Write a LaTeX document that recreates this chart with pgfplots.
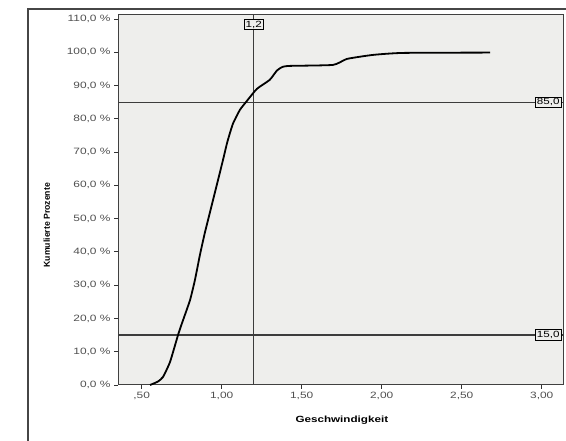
\documentclass[border=0pt]{standalone}
\usepackage{fontspec}
\setmainfont{Liberation Sans}
\newfontfamily\wsans[FakeStretch=1.3]{Liberation Sans}
\newfontfamily\lsans{Liberation Sans}
\usepackage{pgfplots}
\pgfplotsset{compat=1.18}
\definecolor{bgc}{RGB}{238,238,236}
\definecolor{framec}{RGB}{70,70,70}
\definecolor{refc}{RGB}{60,60,60}
\definecolor{tickc}{RGB}{80,80,80}
\pgfplotstableread{
x y
0.552 0.0
0.600 1.0
0.633 2.4
0.677 6.9
0.727 15.0
0.752 18.6
0.802 25.5
0.833 31.6
0.864 39.1
0.896 46.0
0.946 55.6
1.008 67.6
1.035 73.0
1.070 78.5
1.114 82.7
1.158 85.4
1.220 89.0
1.300 91.7
1.345 94.5
1.380 95.6
1.427 95.9
1.696 96.2
1.783 98.0
1.945 99.2
2.133 99.8
2.677 99.9
}\cumdata
\begin{document}
\begin{tikzpicture}[x=1bp,y=1bp]
\useasboundingbox (0,0) rectangle (566,441);
\fill[white] (0,0) rectangle (566,441);
\draw[framec, line width=1.5bp] (28,-10) -- (28,432) -- (580,432);
\begin{axis}[
  scale only axis,
  width=445bp, height=370bp,
  at={(118bp,56bp)}, anchor=south west,
  xmin=0.352, xmax=3.133, ymin=0, ymax=111.2,
  axis background/.style={fill=bgc},
  axis line style={black!75, line width=1bp},
  xtick={0.5,1,1.5,2,2.5,3},
  xticklabels={{,50},{1,00},{1,50},{2,00},{2,50},{3,00}},
  ytick={0,10,20,30,40,50,60,70,80,90,100,110},
  yticklabels={{0,0 \%},{10,0 \%},{20,0 \%},{30,0 \%},{40,0 \%},{50,0 \%},{60,0 \%},{70,0 \%},{80,0 \%},{90,0 \%},{100,0 \%},{110,0 \%}},
  xtick pos=bottom, ytick pos=left,
  tick align=outside,
  major tick length=4bp,
  tick style={black!80, line width=0.9bp},
  ticklabel style={font=\wsans\fontsize{9.2}{11}\selectfont, text=tickc},
  xlabel={Geschwindigkeit},
  ylabel={Kumulierte Prozente},
  xlabel style={font=\wsans\bfseries\fontsize{9}{11}\selectfont, at={(axis description cs:0.503,-0.095)}, anchor=center},
  ylabel style={font=\lsans\bfseries\fontsize{8.7}{10}\selectfont, at={(axis description cs:-0.16,0.432)}, anchor=center, rotate=0},
  clip=false,
]
\addplot[refc, line width=1.3bp] coordinates {(1.2,0) (1.2,111.2)};
\addplot[refc, line width=1.3bp] coordinates {(0.352,85) (3.133,85)};
\addplot[refc, line width=1.3bp] coordinates {(0.352,15) (3.133,15)};
\addplot[black, line width=1.8bp, smooth, tension=0.3] table[x=x,y=y] {\cumdata};
\node[draw=black, fill=bgc, line width=0.9bp, inner sep=1.5bp, font=\wsans\fontsize{9}{10}\selectfont] at (axis cs:1.2,108.3) {1,2};
\node[draw=black, fill=bgc, line width=0.9bp, inner sep=1.5bp, anchor=west, font=\wsans\fontsize{9}{10}\selectfont] at (axis cs:2.958,85) {85,0};
\node[draw=black, fill=bgc, line width=0.9bp, inner sep=1.5bp, anchor=west, font=\wsans\fontsize{9}{10}\selectfont] at (axis cs:2.958,15) {15,0};
\end{axis}
\end{tikzpicture}
\end{document}
